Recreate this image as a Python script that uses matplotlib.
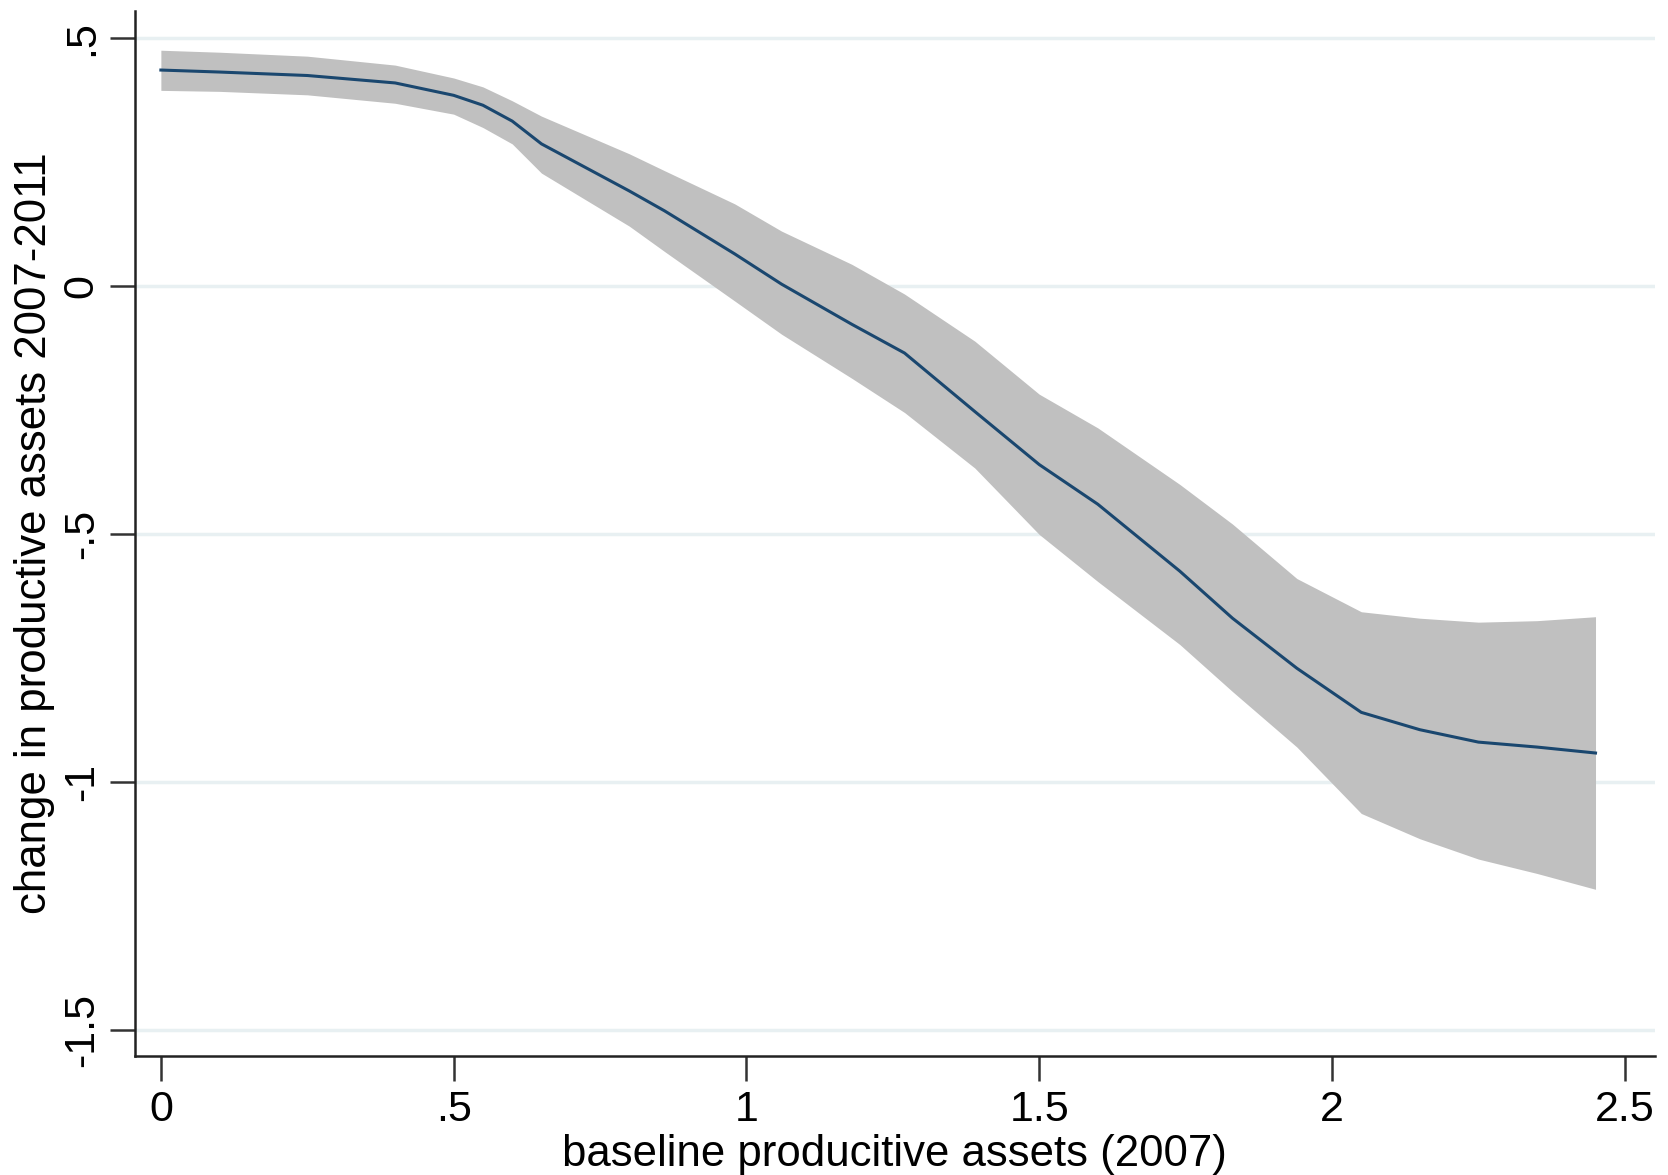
import numpy as np
import matplotlib
matplotlib.use("Agg")
import matplotlib.pyplot as plt

plt.rcParams["font.family"] = ["Liberation Sans", "DejaVu Sans"]

# lowess fit with confidence band
x_vals = [0, 0.1, 0.25, 0.4, 0.5, 0.55, 0.6, 0.65, 0.8, 0.86, 0.98, 1.06,
          1.18, 1.27, 1.39, 1.5, 1.6, 1.74, 1.83, 1.94, 2.05, 2.15, 2.25,
          2.35, 2.45]
fit = [0.436, 0.432, 0.425, 0.41, 0.385, 0.365, 0.333, 0.287, 0.192, 0.152,
       0.065, 0.004, -0.077, -0.135, -0.253, -0.36, -0.44, -0.575, -0.67,
       -0.771, -0.86, -0.895, -0.92, -0.93, -0.942]
upper = [0.476, 0.472, 0.464, 0.446, 0.42, 0.402, 0.374, 0.343, 0.267, 0.233,
         0.166, 0.111, 0.044, -0.016, -0.111, -0.218, -0.286, -0.4, -0.48,
         -0.59, -0.657, -0.67, -0.678, -0.675, -0.667]
lower = [0.395, 0.393, 0.386, 0.369, 0.347, 0.32, 0.287, 0.228, 0.121, 0.07,
         -0.03, -0.097, -0.186, -0.255, -0.367, -0.501, -0.596, -0.723,
         -0.818, -0.93, -1.064, -1.115, -1.156, -1.185, -1.217]

x_ticks = [0, 0.5, 1, 1.5, 2, 2.5]
x_labels = ["0", ".5", "1", "1.5", "2", "2.5"]
y_ticks = [0.5, 0, -0.5, -1, -1.5]
y_labels = [".5", "0", "-.5", "-1", "-1.5"]

fig = plt.figure(figsize=(16.68, 11.75), dpi=100)
ax = fig.add_axes([0.081, 0.101, 0.911, 0.89])

# grid
for yt in y_ticks:
    ax.axhline(yt, color="#e8f0f2", lw=2.5, zorder=0)

ax.fill_between(x_vals, lower, upper, color="#c0c0c0", lw=0, zorder=1)
ax.plot(x_vals, fit, color="#1a476f", lw=2.2, zorder=2)

ax.set_xlim(-0.044, 2.551)
ax.set_ylim(-1.554, 0.556)

ax.set_xticks(x_ticks)
ax.set_xticklabels(x_labels)
ax.set_yticks(y_ticks)
ax.set_yticklabels(y_labels, rotation=90, va="center")

ax.tick_params(axis="both", labelsize=31, length=18, width=1.8,
               color="#333333", pad=6)

for side in ["top", "right"]:
    ax.spines[side].set_visible(False)
for side in ["left", "bottom"]:
    ax.spines[side].set_linewidth(1.8)
    ax.spines[side].set_color("#222222")

ax.set_xlabel("baseline producitive assets (2007)", fontsize=31.5, labelpad=3)
ax.set_ylabel("change in productive assets 2007-2011", fontsize=31.5, labelpad=5)

fig.savefig("out.png", dpi=100, facecolor="white")
